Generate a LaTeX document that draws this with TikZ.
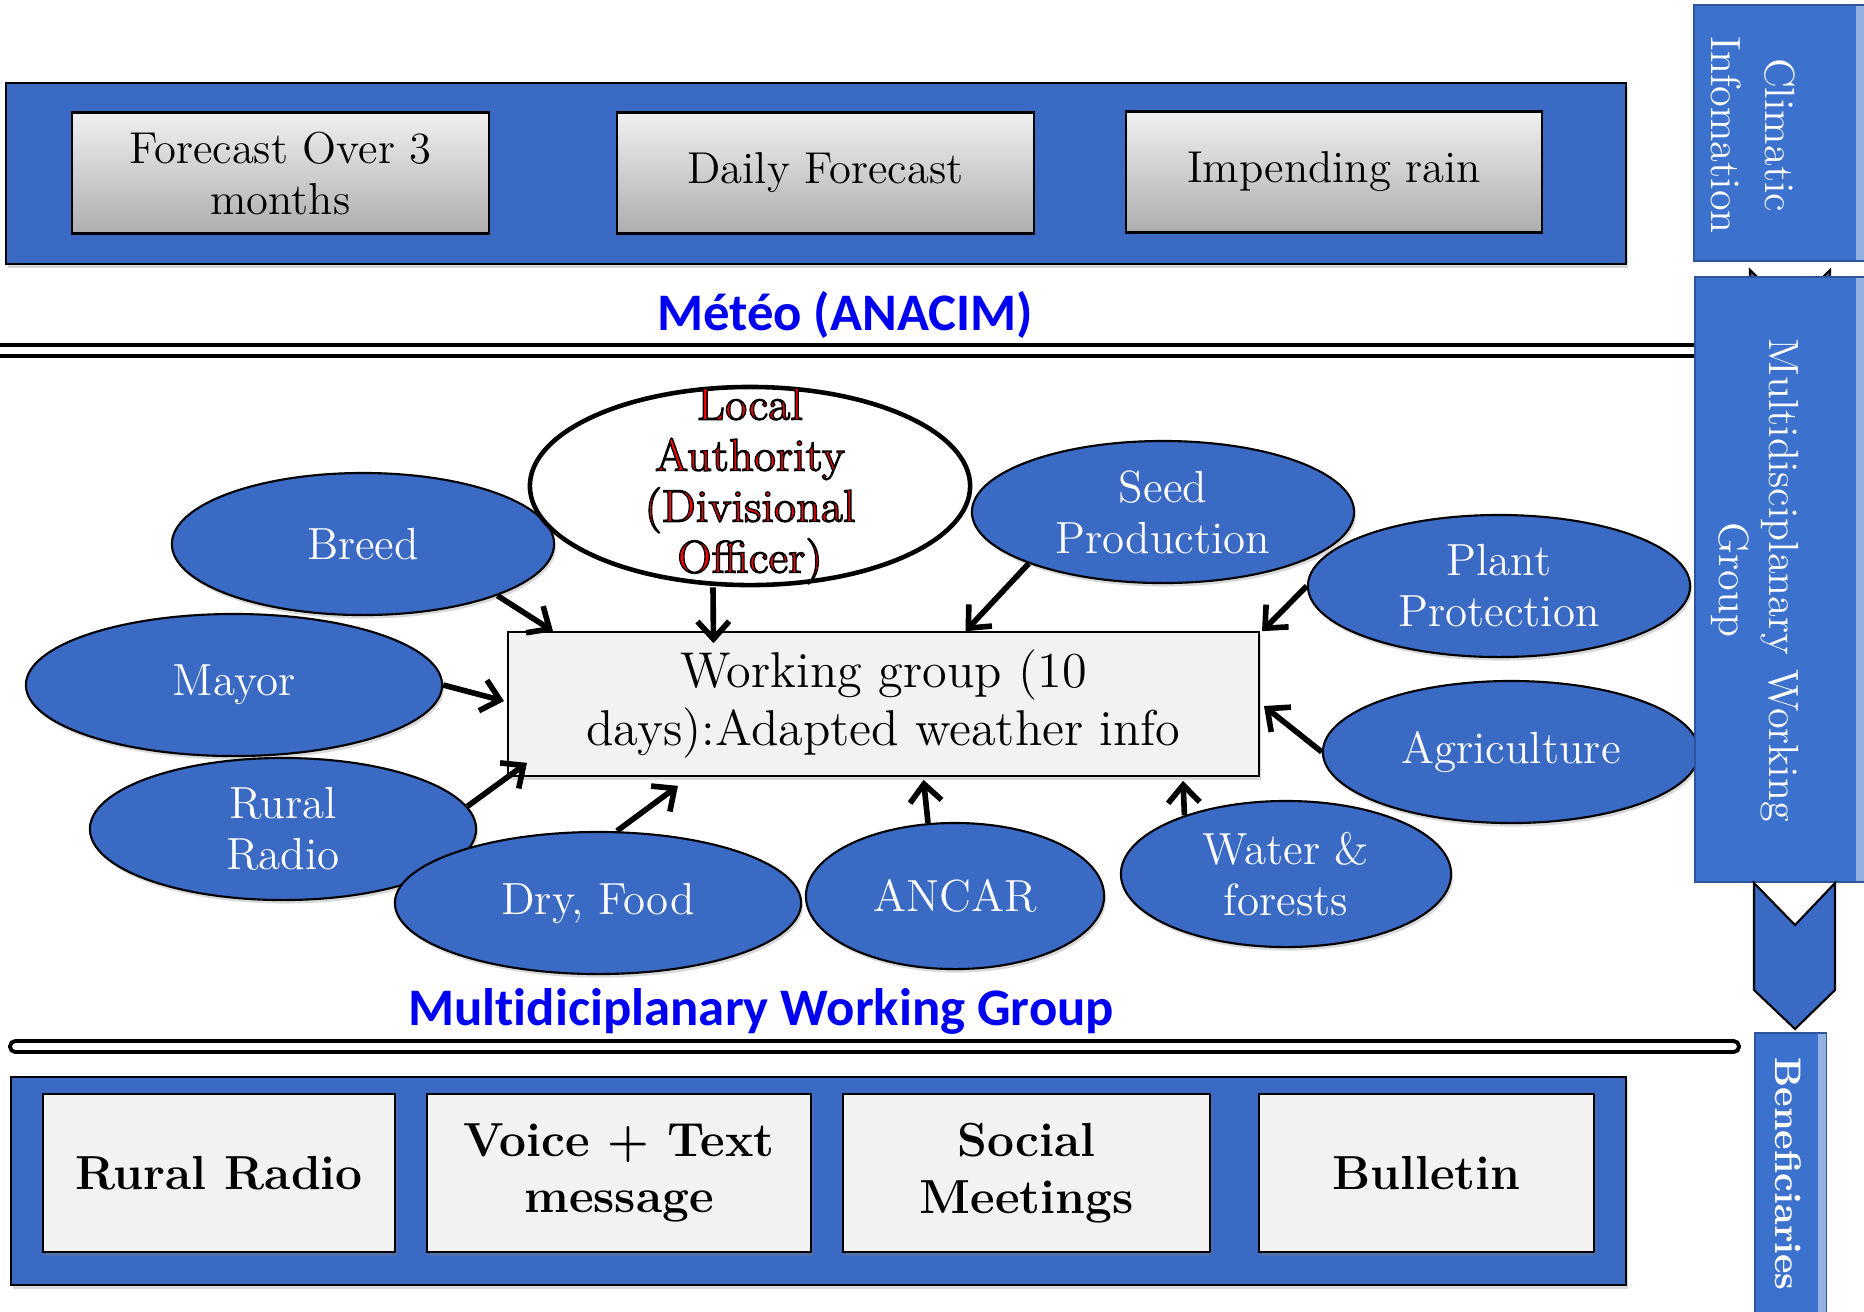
\documentclass[tikz,border=0pt]{standalone}
\usepackage{fontspec}
\newfontfamily\calfont{Carlito}[Ligatures=NoCommon]
\usetikzlibrary{arrows.meta,calc,shapes.geometric,shadows}

\definecolor{panelblue}{RGB}{58,106,196}
\definecolor{barblue}{RGB}{61,113,206}
\definecolor{paleg}{RGB}{242,242,242}
\definecolor{headblue}{RGB}{0,0,240}

\def\inkred#1{\special{pdf:literal direct 0 0 0 RG 0.4 w 2 Tr}#1\special{pdf:literal direct 0 Tr}}

\tikzset{
	panel/.style={draw=black, line width=0.6pt, fill=panelblue,
		drop shadow={shadow xshift=0.6pt, shadow yshift=-1.2pt, opacity=0.3}},
	fcbox/.style={draw=black, line width=0.6pt, top color=black!6, bottom color=black!32,
		minimum width=4.16cm, minimum height=1.21cm, align=center,
		font=\fontsize{12.7}{14.5}\selectfont},
	actor/.style={ellipse, draw=black, line width=0.6pt, fill=panelblue, text=white,
		inner sep=0pt, align=center, font=\fontsize{12.8}{14.5}\selectfont,
		drop shadow={shadow xshift=0.5pt, shadow yshift=-1pt, opacity=0.3}},
	feed/.style={line width=1.6pt, -{Straight Barb[length=5pt,width=9pt]}},
	outbox/.style={draw=black, line width=0.7pt, fill=paleg, align=center,
		minimum height=1.58cm, font=\bfseries\fontsize{13.6}{16}\selectfont,
		drop shadow={shadow xshift=0.5pt, shadow yshift=-1pt, opacity=0.3}},
	sidebar/.style={fill=barblue, draw=barblue!75!black, line width=0.4pt},
	sidetext/.style={text=white, rotate=-90, align=center, inner sep=0pt},
	head/.style={text=headblue, font=\calfont\bfseries\fontsize{15}{18}\selectfont},
}

\begin{document}
\begin{tikzpicture}[x=0.01cm, y=-0.01cm]
	%%%%% START %%%%%
	\useasboundingbox (0,0) rectangle (1864,1311);
	
	% Meteo panel
	\draw[panel] (6,83) rectangle (1626,264);
	\node[fcbox] (fc3m) at (280.5,173) {Forecast Over 3\\months};
	\node[fcbox] (fcday) at (825.5,173) {Daily Forecast};
	\node[fcbox] (fcrain) at (1334,172) {Impending rain};
	\node[head] (meteo) at (845,315) {Météo (ANACIM)};
	
	\draw[line width=0.9pt] (0,345) -- (1695,345);
	\draw[line width=1.4pt] (0,356) -- (1695,356);
	
	% working group
	\node[draw=black, line width=0.45pt, fill=paleg, minimum width=7.51cm, minimum height=1.44cm,
		align=center, font=\fontsize{14.3}{16.5}\selectfont,
		drop shadow={shadow xshift=0.5pt, shadow yshift=-1pt, opacity=0.3}]
		(wg) at (883.5,704) {Working group (10\\days):Adapted weather info};
	
	\node[actor, minimum width=3.82cm, minimum height=1.42cm] (breed) at (363,544) {Breed};
	\node[actor, minimum width=4.16cm, minimum height=1.42cm] (mayor) at (234,685) {Mayor};
	\node[actor, minimum width=3.86cm, minimum height=1.42cm] (rural) at (283,829) {Rural\\Radio};
	\node[actor, minimum width=4.06cm, minimum height=1.42cm] (dry) at (598,903) {Dry, Food};
	\node[actor, minimum width=2.98cm, minimum height=1.46cm] (ancar) at (955,896) {ANCAR};
	\node[actor, minimum width=3.30cm, minimum height=1.46cm] (water) at (1286,874) {Water \&\\forests};
	
	\node[ellipse, draw=black, line width=1.3pt, fill=white, minimum width=4.4cm, minimum height=1.98cm,
		inner sep=0pt] (la) at (750,486) {};
	\node[text=red, align=center, font=\fontsize{12.9}{14.5}\selectfont] (latext) at (la.center)
		{\inkred{Local\\Authority\\(Divisional\\Officer)}};
	
	\node[actor, minimum width=3.82cm, minimum height=1.42cm] (seed) at (1163,512) {Seed\\Production};
	\node[actor, minimum width=3.82cm, minimum height=1.42cm] (plant) at (1499,586) {Plant\\Protection};
	\node[actor, minimum width=3.76cm, minimum height=1.42cm] (agri) at (1511,752) {Agriculture};
	
	\draw[feed] (breed.-21) -- ($(wg.north west)+(46,0)$);
	\draw[feed] ($(la.south)+(-37,0)$) -- ($(wg.north)+(-170,12)$);
	\draw[feed] (seed.201) -- ($(wg.north)+(82,0)$);
	\draw[feed] (plant.west) -- ($(wg.north east)+(2,0)$);
	\draw[feed] (mayor.east) -- ($(wg.west)+(-3,-3)$);
	\draw[feed] (agri.west) -- ($(wg.east)+(4,2)$);
	\draw[feed] (rural.7) -- ($(wg.south west)+(20,-14)$);
	\draw[feed] ($(dry.north)+(19,0)$) -- ($(wg.south west)+(171,9)$);
	\draw[feed] ($(ancar.north)+(-27,1)$) -- ($(wg.south)+(40,3)$);
	\draw[feed] (water.150) -- ($(wg.south east)+(-77,4)$);
	
	\node[head] (mwglabel) at (761,1011) {Multidiciplanary Working Group};
	\draw[line width=1.1pt, fill=white, rounded corners=1.5pt] (10,1041) rectangle (1739,1052);
	
	% channels panel
	\draw[panel] (11,1077) rectangle (1626,1285);
	\node[outbox, minimum width=3.52cm] (rrout) at (219,1173) {Rural Radio};
	\node[outbox, minimum width=3.84cm] (voice) at (619,1173) {Voice + Text\\message};
	\node[outbox, minimum width=3.67cm] (social) at (1026.5,1173) {Social\\Meetings};
	\node[outbox, minimum width=3.35cm] (bull) at (1426.5,1173) {Bulletin};
	
	% right column
	\draw[line width=0.6pt, fill=panelblue] (1750,270) -- (1790,310) -- (1830,270) -- (1830,340) -- (1790,380) -- (1750,340) -- cycle;
	\draw[sidebar] (1694,5) rectangle (1866,261);
	\fill[barblue!55!white] (1856,6) rectangle (1866,260);
	\draw[sidebar] (1695,277) rectangle (1866,882);
	\fill[barblue!55!white] (1856,278) rectangle (1866,881);
	\draw[line width=0.6pt, fill=panelblue] (1754,883) -- (1795,925) -- (1835,883) -- (1835,990) -- (1795,1029) -- (1754,990) -- cycle;
	\draw[sidebar] (1755,1033) rectangle (1826,1330);
	\fill[barblue!55!white] (1818,1034) rectangle (1826,1330);
	
	\node[sidetext, font=\fontsize{12}{15.3}\selectfont] (climtxt) at (1753,135) {Climatic\\Infomation};
	\node[sidetext, font=\fontsize{12}{14.2}\selectfont] (mwgtxt) at (1755,580) {Multidisciplanary Working\\Group};
	\node[sidetext, font=\bfseries\fontsize{10.5}{12}\selectfont] (benetxt) at (1788,1174) {Beneficiaries};
	%%%%% END %%%%%
\end{tikzpicture}
\end{document}
